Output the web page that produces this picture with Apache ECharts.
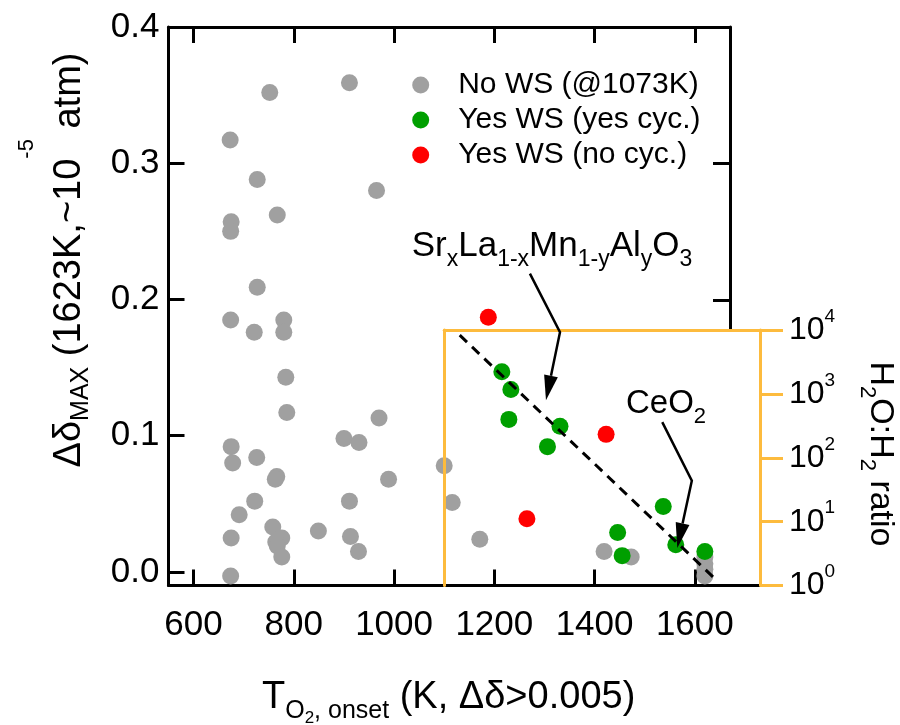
<!DOCTYPE html>
<html><head><meta charset="utf-8">
<script src="https://cdn.jsdelivr.net/npm/echarts@6/dist/echarts.min.js"></script>
<style>html,body{margin:0;padding:0;background:#fff}#c{width:900px;height:725px}</style>
</head><body><div id="c"></div>
<script>
const FONT = '"Liberation Sans", Arial, Helvetica, sans-serif';
const ORANGE = '#FDBB3D';

const xTicks = [600, 800, 1000, 1200, 1400, 1600];
const yTicks = [0, 0.1, 0.2, 0.3, 0.4];
const frameTicks = [0.2, 0.3];
const ratioTicks = [1, 10, 100, 1000, 10000];
const legendNames = ['No WS (@1073K)', 'Yes WS (yes cyc.)', 'Yes WS (no cyc.)'];

// [T_O2 onset (K), delta max]
const noWS = [
  [752,0.352],[911,0.359],[673,0.317],[727,0.288],[965,0.280],[767,0.262],[675,0.257],[674,0.250],
  [727,0.209],[674,0.185],[721,0.176],[780,0.185],[780,0.176],[784,0.143],[786,0.117],[970,0.113],
  [900,0.098],[930,0.095],[675,0.092],[678,0.080],[726,0.084],[766,0.070],[763,0.068],[1100,0.078],
  [1116,0.051],[989,0.068],[722,0.052],[691,0.042],[911,0.052],[675,0.025],[758,0.033],[776,0.025],
  [764,0.022],[767,0.019],[776,0.011],[849,0.030],[913,0.026],[929,0.015],[674,-0.003],[1171,0.024],
  [1419,0.015],[1473,0.011],[1620,0.011],[1620,0.006],[1620,0.002],[1620,-0.003]
];
const yesCyc = [
  [1215,0.147],[1233,0.134],[1229,0.112],[1331,0.107],[1306,0.092],[1537,0.048],[1446,0.029],
  [1455,0.012],[1562,0.020],[1620,0.015]
];
const noCyc = [[1188,0.187],[1423,0.101],[1265,0.039]];

// dashed trend in (K, H2O:H2 ratio)
const fitLine = [[1131,8300],[1637,1.35]];
// annotation arrows in (K, delta) coordinates
const srArrow = [[1271,0.219],[1331,0.176],[1303,0.126]];
const ceArrow = [[1535,0.110],[1594,0.067],[1565,0.0176]];

const chart = echarts.init(document.getElementById('c'), null, {renderer:'canvas'});
const blackLine = {color:'#000', width:3};
const orangeLine = {color:ORANGE, width:3};

const option = {
  animation:false,
  backgroundColor:'#fff',
  textStyle:{fontFamily:FONT},
  grid:[
    {left:168.5, right:140, top:27, bottom:139.4},
    {left:168.5, right:170, top:27, bottom:139.4},
    {left:168.5, right:170, top:27, bottom:395},
    {left:444.2, right:140, top:330, bottom:139.4}
  ],
  xAxis:[
    {gridIndex:0, type:'value', min:550, max:1730, position:'bottom',
     axisLine:{show:true, onZero:false, lineStyle:blackLine},
     axisTick:{show:true, inside:true, length:16, lineStyle:blackLine, customValues:xTicks},
     axisLabel:{customValues:xTicks, formatter:v => String(v), fontSize:35, color:'#000', margin:22, fontFamily:FONT},
     splitLine:{show:false}},
    {gridIndex:1, type:'value', min:550, max:1670, position:'top',
     axisLine:{show:true, onZero:false, lineStyle:blackLine},
     axisTick:{show:true, inside:true, length:16, lineStyle:blackLine, customValues:xTicks},
     axisLabel:{show:false}, splitLine:{show:false}},
    {gridIndex:2, type:'value', min:550, max:1670, show:false},
    {gridIndex:3, type:'value', min:1100, max:1730, position:'top', z:10,
     axisLine:{show:true, onZero:false, lineStyle:orangeLine},
     axisTick:{show:false}, axisLabel:{show:false}, splitLine:{show:false}}
  ],
  yAxis:[
    {gridIndex:0, type:'value', min:-0.01, max:0.4, position:'left',
     axisLine:{show:true, onZero:false, lineStyle:blackLine},
     axisTick:{show:true, inside:true, length:16, lineStyle:blackLine, customValues:yTicks},
     axisLabel:{customValues:yTicks, formatter:v => v.toFixed(1), fontSize:35, color:'#000', margin:9, fontFamily:FONT},
     splitLine:{show:false}},
    {gridIndex:1, type:'value', min:-0.01, max:0.4, show:false},
    {gridIndex:2, type:'value', min:0.1784, max:0.4, position:'right',
     axisLine:{show:true, onZero:false, lineStyle:blackLine},
     axisTick:{show:true, inside:true, length:17, lineStyle:blackLine, customValues:frameTicks},
     axisLabel:{show:false}, splitLine:{show:false}},
    {gridIndex:3, type:'log', logBase:10, min:1, max:10000, position:'right', z:10,
     axisLine:{show:true, onZero:false, lineStyle:orangeLine},
     axisTick:{show:true, inside:false, length:23, lineStyle:orangeLine},
     minorTick:{show:false},
     axisLabel:{margin:29, color:'#000',
       formatter:v => '{b|10}{s|' + Math.round(Math.log10(v)) + '}',
       rich:{
         b:{fontSize:32, lineHeight:46, fontFamily:FONT, color:'#000', verticalAlign:'middle'},
         s:{fontSize:19, lineHeight:19, fontFamily:FONT, color:'#000', verticalAlign:'top'}
       }},
     splitLine:{show:false}},
    {gridIndex:3, type:'value', min:0, max:1, position:'left', z:10,
     axisLine:{show:true, onZero:false, lineStyle:orangeLine},
     axisTick:{show:false}, axisLabel:{show:false}, splitLine:{show:false}}
  ],
  legend:{
    show:true, orient:'vertical', left:407.2, top:65, itemWidth:17, itemHeight:17, itemGap:5,
    icon:'circle', data:legendNames, selectedMode:false,
    formatter:n => '{g| }' + n,
    textStyle:{fontSize:30, lineHeight:30, color:'#000', fontFamily:FONT,
      rich:{g:{width:24, fontSize:30}}}
  },
  series:[
    {name:legendNames[0], type:'scatter', xAxisIndex:0, yAxisIndex:0, data:noWS, symbolSize:17,
     itemStyle:{color:'#A0A0A0', opacity:1}, z:2},
    {name:legendNames[1], type:'scatter', xAxisIndex:0, yAxisIndex:0, data:yesCyc, symbolSize:17,
     itemStyle:{color:'#009F00', opacity:1}, z:3},
    {name:legendNames[2], type:'scatter', xAxisIndex:0, yAxisIndex:0, data:noCyc, symbolSize:17,
     itemStyle:{color:'#FF0000', opacity:1}, z:3},
    {type:'line', xAxisIndex:3, yAxisIndex:3, data:fitLine, symbol:'none', showSymbol:false, silent:true,
     lineStyle:{color:'#000', width:3, type:[10,7]}, z:4}
  ]
};
chart.setOption(option);

function px(p){ return chart.convertToPixel({xAxisIndex:0, yAxisIndex:0}, p); }
function arrowEls(pts){
  const P = pts.map(px);
  const T = P[P.length-1], Q = P[P.length-2];
  const dx = T[0]-Q[0], dy = T[1]-Q[1], len = Math.hypot(dx,dy);
  const ux = dx/len, uy = dy/len, headL = 25, headW = 7;
  const B = [T[0]-ux*headL, T[1]-uy*headL];
  const line = P.slice(0,-1).concat([B]);
  return [
    {type:'polyline', shape:{points:line}, style:{stroke:'#000', lineWidth:2.5, fill:null}, z:50},
    {type:'polygon', shape:{points:[T,[B[0]-uy*headW,B[1]+ux*headW],[B[0]+uy*headW,B[1]-ux*headW]]},
     style:{fill:'#000'}, z:50}
  ];
}
// base token
function tok(size){ return {fontSize:size, fontFamily:FONT, fill:'#000', verticalAlign:'middle'}; }
// shifted token: positive d = lower (subscript), negative d = raise (superscript)
function sh(size, d){
  const t = tok(size);
  t.padding = d >= 0 ? [2*d, 0, 0, 0] : [0, 0, -2*d, 0];
  return t;
}

const graphics = [
  {type:'text', x:262, y:697.1, z:60, style:{
    text:'{b|T}{s|O}{ss|2}{s|, onset}{b| (K, Δδ>0.005)}', align:'left', verticalAlign:'middle',
    rich:{b:tok(38), s:sh(25,14.4), ss:sh(17,21.1)}}},
  {type:'text', x:70, y:260, rotation:Math.PI/2, z:60, style:{
    text:'{b|Δδ}{s|MAX}{b| (1623K,~10}{p|-5}{b| atm)}', align:'center', verticalAlign:'middle',
    rich:{b:tok(38), s:sh(25,11.4), p:sh(22,-42.6)}}},
  {type:'text', x:880.6, y:454, rotation:-Math.PI/2, z:60, style:{
    text:'{b|H}{s|2}{b|O:H}{s|2}{b| ratio}', align:'center', verticalAlign:'middle',
    rich:{b:tok(34), s:sh(22,13.1)}}},
  {type:'text', x:411.7, y:246.4, z:60, style:{
    text:'{b|Sr}{s|x}{b|La}{s|1-x}{b|Mn}{s|1-y}{b|Al}{s|y}{b|O}{s|3}', align:'left', verticalAlign:'middle',
    rich:{b:tok(35), s:sh(23,13)}}},
  {type:'text', x:626, y:403.8, z:60, style:{
    text:'{b|CeO}{s|2}', align:'left', verticalAlign:'middle',
    rich:{b:tok(33), s:sh(22,12.7)}}}
].concat(arrowEls(srArrow), arrowEls(ceArrow));

chart.setOption({graphic:graphics});
</script>
</body></html>
